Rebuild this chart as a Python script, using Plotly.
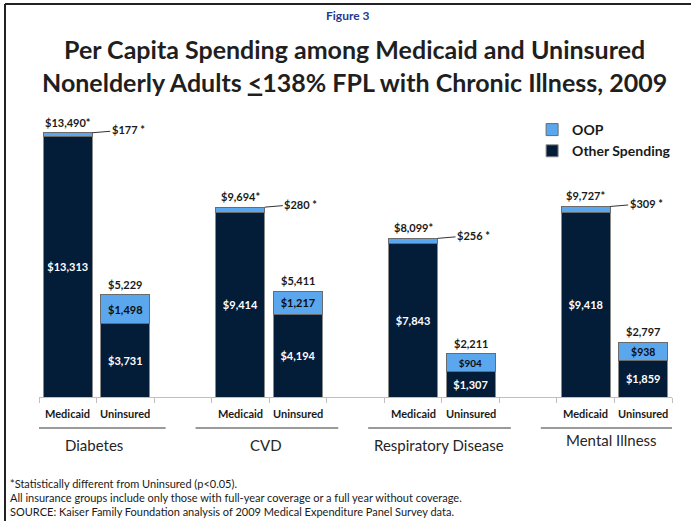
import plotly.graph_objects as go

# ---- data ----
groups = ["Diabetes", "CVD", "Respiratory Disease", "Mental Illness"]
coverage = ["Medicaid", "Uninsured"]
other_medicaid = [13313, 9414, 7843, 9418]
oop_medicaid = [177, 280, 256, 309]
other_uninsured = [3731, 4194, 1307, 1859]
oop_uninsured = [1498, 1217, 904, 938]
medicaid_sig = [True, True, True, True]  # * statistically different from Uninsured

footnotes = [
    "*Statistically different from Uninsured (p<0.05).",
    "All insurance groups include only those with full-year coverage or a full year without coverage.",
    "SOURCE: Kaiser Family Foundation analysis of 2009 Medical Expenditure Panel Survey data.",
]

NAVY = "#031c38"
BLUE = "#5aa7ee"
FONT = "Lato"

# positions: each group takes 3 slots (Medicaid, Uninsured, gap)
xs, other, oop, oop_txt, other_txt = [], [], [], [], []
for g in range(len(groups)):
    for i, (o, p) in enumerate([(other_medicaid[g], oop_medicaid[g]), (other_uninsured[g], oop_uninsured[g])]):
        xs.append(3 * g + i)
        other.append(o)
        oop.append(p)
        other_txt.append(f"<b>${o:,}</b>")
        oop_txt.append("" if i == 0 else f"<b>${p:,}</b>")

fig = go.Figure()
fig.add_trace(go.Bar(
    x=xs, y=other, name="<b>Other Spending</b>", width=0.85,
    marker=dict(color=NAVY, line=dict(color="#8a8a8a", width=1)),
    text=other_txt, textposition="inside", insidetextanchor="middle",
    textfont=dict(family=FONT, size=11, color="white"),
    hoverinfo="skip",
))
fig.add_trace(go.Bar(
    x=xs, y=oop, name="<b>OOP</b>", width=0.85,
    marker=dict(color=BLUE, line=dict(color="#6b6b6b", width=1)),
    text=oop_txt, textposition="inside", insidetextanchor="middle",
    textfont=dict(family=FONT, size=11, color="#0d0d0d"),
    hoverinfo="skip",
))

annotations = []
shapes = []
# totals and callouts
for k, x in enumerate(xs):
    total = other[k] + oop[k]
    is_med = (k % 2 == 0)
    star = "*" if (is_med and medicaid_sig[k // 2]) else ""
    annotations.append(dict(x=x, y=total, xref="x", yref="y", text=f"<b>${total:,}{star}</b>",
                            showarrow=False, yanchor="bottom", yshift=2,
                            font=dict(family=FONT, size=11, color="#1a1a1a")))
    if is_med:
        annotations.append(dict(x=x + 0.425, y=total, xref="x", yref="y",
                                text=f"<b>${oop[k]:,} *</b>", showarrow=True, arrowhead=0,
                                arrowwidth=1, arrowcolor="#333333", ax=36, ay=-3,
                                font=dict(family=FONT, size=11, color="#1a1a1a")))

def py(p):  # pixel row -> paper y
    return (397 - p) / 284.0

def px(p):  # pixel col -> paper x
    return (p - 39) / 633.0

# category labels and group labels
for g, name in enumerate(groups):
    for i, c in enumerate(coverage):
        annotations.append(dict(x=3 * g + i, y=py(413), xref="x", yref="paper", text=f"<b>{c}</b>",
                                showarrow=False, xanchor="center", yanchor="middle",
                                font=dict(family=FONT, size=11, color="#1a1a1a")))
    center = 3 * g + 0.5
    shapes.append(dict(type="line", xref="x", yref="paper", x0=center - 1.28, x1=center + 1.2,
                       y0=py(428), y1=py(428), line=dict(color="#9a9a9a", width=2)))
    gy = 440 if g == 3 else 445
    annotations.append(dict(x=center - 0.05, y=py(gy), xref="x", yref="paper", text=name,
                            showarrow=False, xanchor="center", yanchor="middle",
                            font=dict(family=FONT, size=15, color="#262626")))

# title
annotations.append(dict(x=px(348), y=py(16), xref="paper", yref="paper", text="<b>Figure 3</b>",
                        showarrow=False, xanchor="center", yanchor="middle",
                        font=dict(family=FONT, size=12, color="#1f3a8f")))
annotations.append(dict(x=px(354), y=py(65), xref="paper", yref="paper",
                        text="<b>Per Capita Spending among Medicaid and Uninsured<br>Nonelderly Adults <u>&lt;</u>138% FPL with Chronic Illness, 2009</b>",
                        showarrow=False, xanchor="center", yanchor="middle",
                        font=dict(family=FONT, size=25, color="#1f1f1f")))

for j, t in enumerate(footnotes):
    annotations.append(dict(x=px(8), y=py(483 + 14 * j), xref="paper", yref="paper", text=t,
                            xanchor="left", yanchor="middle", showarrow=False,
                            font=dict(family=FONT, size=11, color="#1a1a1a")))

# frame
shapes.append(dict(type="line", xref="paper", yref="paper", x0=px(5), x1=px(700), y0=py(4), y1=py(4),
                   line=dict(color="#222222", width=2)))
shapes.append(dict(type="line", xref="paper", yref="paper", x0=px(5), x1=px(5), y0=py(4), y1=py(530),
                   line=dict(color="#222222", width=2)))

fig.update_layout(
    width=691, height=521,
    margin=dict(l=39, r=19, t=113, b=124),
    paper_bgcolor="white", plot_bgcolor="white",
    barmode="stack", bargap=0.15,
    showlegend=True,
    legend=dict(x=0.779, y=py(114), xanchor="left", yanchor="top", traceorder="reversed",
                font=dict(family=FONT, size=14, color="#1a1a1a"),
                bgcolor="rgba(0,0,0,0)", itemwidth=30, tracegroupgap=0),
    xaxis=dict(range=[-0.5, 10.5], tickvals=[v - 0.5 for v in range(12)], showticklabels=False,
               ticks="outside", ticklen=5, tickcolor="#bfbfbf", showline=True, linecolor="#bfbfbf",
               linewidth=1, showgrid=False, zeroline=False, fixedrange=True),
    yaxis=dict(range=[0, 14500], visible=False, fixedrange=True),
    annotations=annotations, shapes=shapes,
    font=dict(family=FONT),
)

fig.write_html("out.html")
